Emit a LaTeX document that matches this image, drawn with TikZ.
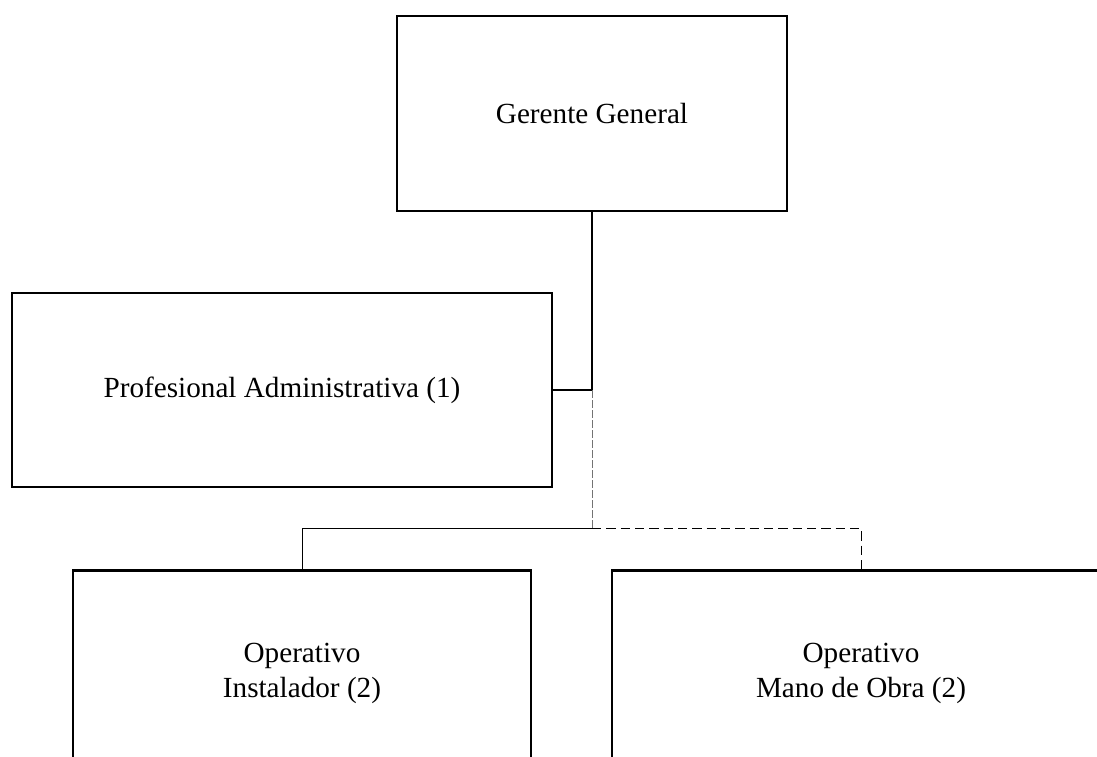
\documentclass[tikz,border=0pt]{standalone}
\usepackage{fontspec}
\setmainfont{Liberation Serif}

\tikzset{
  cargo/.style={draw, line width=1.9pt, rectangle, inner sep=0pt, align=center,
    font=\fontsize{21.9}{26.5}\selectfont},
  enlace/.style={line width=0.75pt},
  enlacedash/.style={line width=0.75pt, dash pattern=on 7pt off 3.75pt},
  enlacegris/.style={line width=0.75pt, color=black!55, dash pattern=on 6pt off 1.5pt}
}

\begin{document}
\begin{tikzpicture}[x=0.75pt,y=0.75pt,yscale=-1,xscale=1]
\useasboundingbox (0,0) rectangle (1097,757);
\clip (0,0) rectangle (1097,757);

%Shape: Rectangle [id:gerente]
\node [cargo, minimum width=292.5pt, minimum height=146.25pt] (gerente) at (592,113.5) {Gerente General};
%Shape: Rectangle [id:prof]
\node [cargo, minimum width=405pt, minimum height=145.5pt] (prof) at (282,390) {Profesional Administrativa (1)};
%Shape: Rectangle [id:inst]
\node [cargo, minimum width=343.5pt, minimum height=154.5pt, anchor=north] (inst) at (302,569) {Operativo\\Instalador (2)};
%Shape: Rectangle [id:mano]
\node [cargo, minimum width=373.5pt, minimum height=154.5pt, anchor=north] (mano) at (861,569) {Operativo\\Mano de Obra (2)};

\coordinate (nudo) at (592,390);
\coordinate (bus) at (592,528);

%Straight Lines
\draw [enlace, line width=1pt] (gerente.south) -- (nudo) -- (prof.east) ;
%Straight Lines
\draw [enlacegris] (nudo) -- (bus) ;
%Straight Lines
\draw [enlace] (bus) -| (inst.north) ;
%Straight Lines
\draw [enlacedash] (bus) -| (mano.north) ;

\end{tikzpicture}
\end{document}
